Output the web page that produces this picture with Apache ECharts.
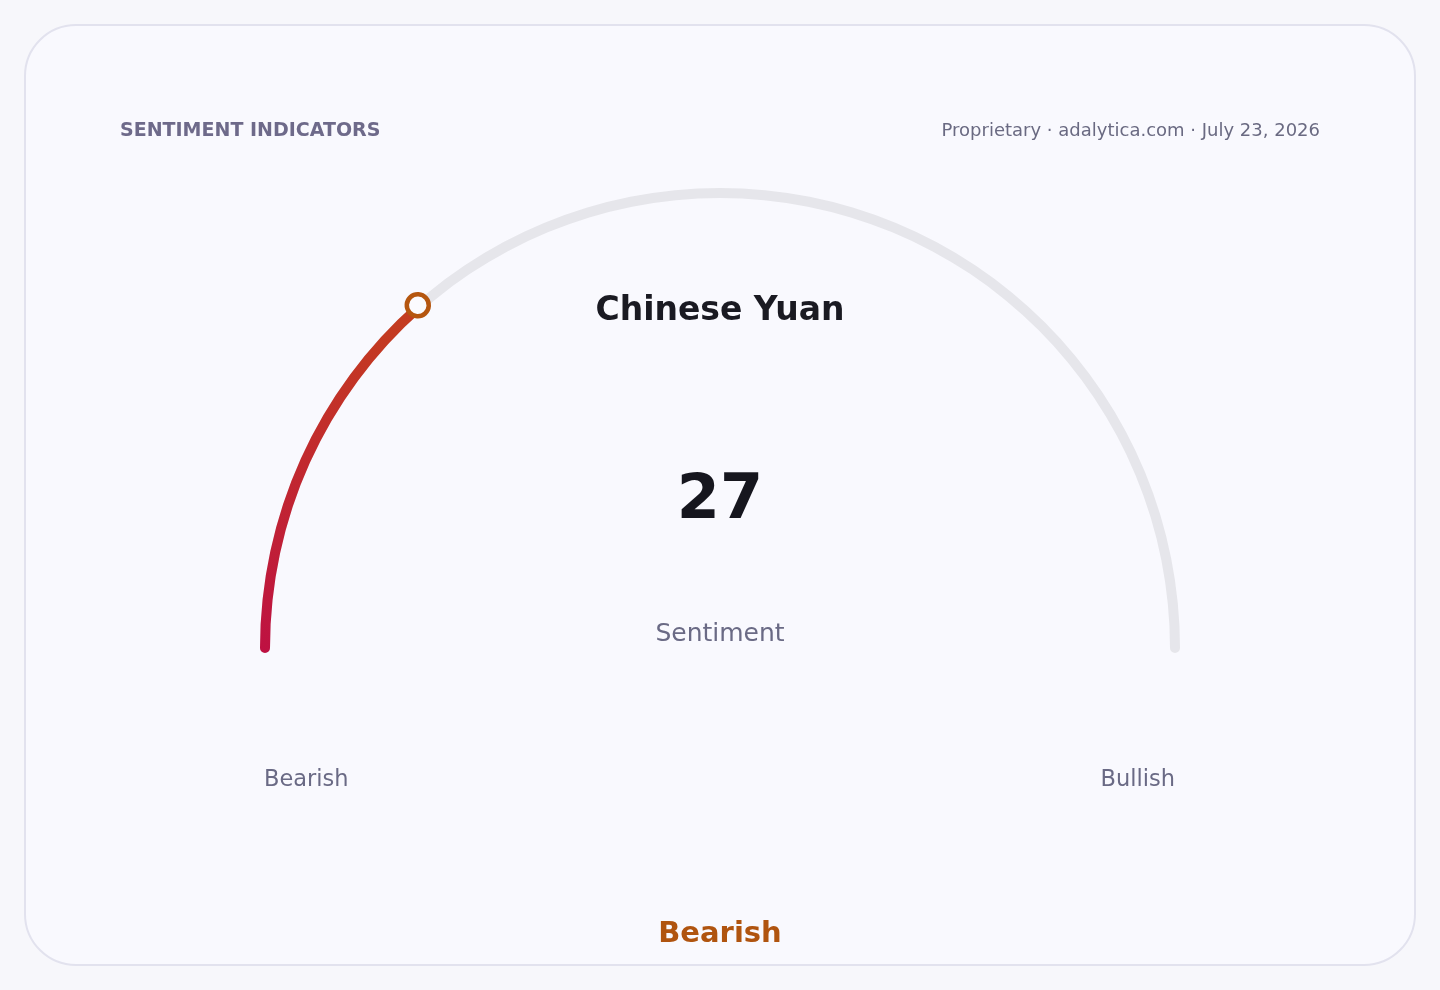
<!DOCTYPE html>
<html>
<head>
<meta charset="utf-8">
<script src="https://cdn.jsdelivr.net/npm/echarts@6/dist/echarts.min.js"></script>
<style>
html, body { margin: 0; padding: 0; background: #f7f7fb; }
#card { position: absolute; left: 24px; top: 24px; width: 1388px; height: 938px;
  border: 2px solid #e2e2ee; border-radius: 52px; background: #f9f9fe; }
#main { position: absolute; left: 0; top: 0; width: 1440px; height: 990px; }
</style>
</head>
<body>
<div id="card"></div>
<div id="main"></div>
<script>
var currency = 'Chinese Yuan';
var sentimentValue = 27;
var sentimentLabel = 'Bearish';
var scaleEnds = ['Bearish', 'Bullish'];
var headerLeft = 'SENTIMENT INDICATORS';
var headerRight = 'Proprietary \u00b7 adalytica.com \u00b7 July 23, 2026';

var font = 'DejaVu Sans';
var myChart = echarts.init(document.getElementById('main'));

// shared gauge geometry
var base = {
    type: 'gauge',
    center: [720, 648],
    radius: 460,
    startAngle: 180,
    endAngle: 0,
    min: 0,
    max: 100,
    splitLine: { show: false },
    axisTick: { show: false },
    axisLabel: { show: false },
    anchor: { show: false }
};

var option = {
    backgroundColor: 'transparent',
    graphic: [
        { type: 'text', left: 120, top: 122,
          style: { text: headerLeft, font: 'bold 19px "DejaVu Sans"', fill: '#6e6a8a' } },
        { type: 'text', right: 120, top: 122,
          style: { text: headerRight, font: '18px "DejaVu Sans"', fill: '#6a6a82', textAlign: 'right' } },
        { type: 'text', left: 'center', top: 295,
          style: { text: currency, font: 'bold 33px "DejaVu Sans"', fill: '#1a1a22' } },
        { type: 'text', left: 264, top: 769,
          style: { text: scaleEnds[0], font: '22.5px "DejaVu Sans"', fill: '#6a6a85' } },
        { type: 'text', right: 265, top: 769,
          style: { text: scaleEnds[1], font: '22.5px "DejaVu Sans"', fill: '#6a6a85', textAlign: 'right' } },
        { type: 'text', left: 'center', top: 920,
          style: { text: sentimentLabel, font: 'bold 29px "DejaVu Sans"', fill: '#b0540f' } }
    ],
    series: [
        echarts.util.merge({
            z: 2,
            axisLine: {
                roundCap: true,
                lineStyle: { width: 10, color: [[1, '#e6e6eb']] }
            },
            progress: {
                show: true,
                roundCap: true,
                width: 10,
                itemStyle: {
                    color: new echarts.graphic.LinearGradient(0, 1, 0, 0, [
                        { offset: 0, color: '#be1142' },
                        { offset: 1, color: '#c43e1e' }
                    ])
                }
            },
            pointer: { show: false },
            title: {
                offsetCenter: [0, -14],
                fontFamily: font,
                fontSize: 25,
                color: '#6a6a85'
            },
            detail: {
                offsetCenter: [0, -146],
                fontFamily: font,
                fontSize: 62,
                fontWeight: 'bold',
                color: '#16161e',
                formatter: '{value}'
            },
            data: [{ value: sentimentValue, name: 'Sentiment' }]
        }, base),
        // marker ring on top of the progress arc
        echarts.util.merge({
            z: 5,
            axisLine: { show: false },
            progress: { show: false },
            pointer: {
                show: true,
                icon: 'circle',
                width: 22,
                length: 22,
                offsetCenter: [0, -446],
                itemStyle: { color: '#fbfbfe', borderColor: '#b5560f', borderWidth: 4.5 }
            },
            title: { show: false },
            detail: { show: false },
            data: [{ value: sentimentValue }]
        }, base)
    ]
};
myChart.setOption(option);
</script>
</body>
</html>
